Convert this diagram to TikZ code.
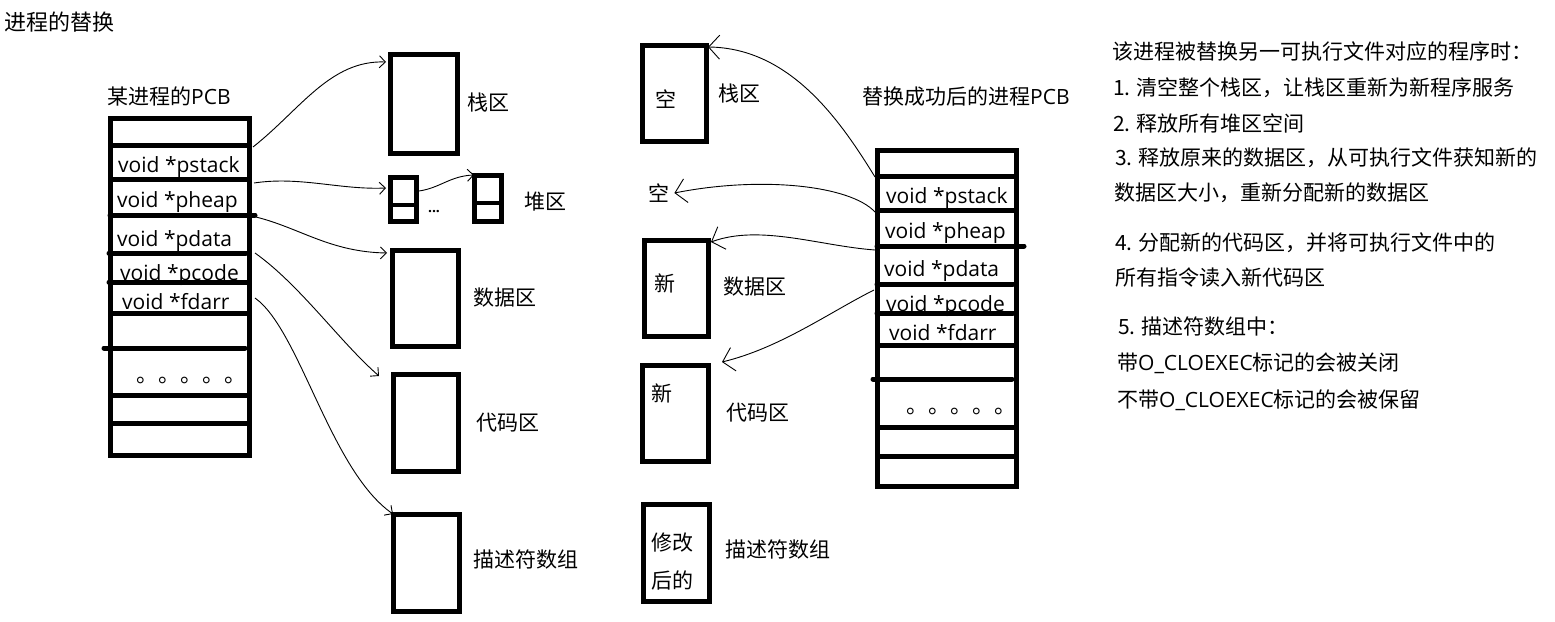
\documentclass[tikz,border=0pt]{standalone}
\usepackage{fontspec}
\setmainfont{Noto Sans CJK SC}
\newfontfamily\latf{Open Sans}
\usetikzlibrary{arrows.meta}
\tikzset{
  membox/.style={draw, line width=5pt, inner sep=0pt, outer sep=0pt},
  rowline/.style={line width=5pt, line cap=round},
  thinline/.style={line width=4pt},
  connL/.style={line width=0.9pt, -{Straight Barb[length=6pt,width=12pt]}},
  connR/.style={line width=0.9pt, -{Straight Barb[length=11pt,width=24pt]}},
  lab/.style={anchor=west, inner sep=0pt, font=\fontsize{21}{24}\selectfont},
  ttl/.style={anchor=west, inner sep=0pt, font=\fontsize{21}{24}\selectfont},
  field/.style={anchor=base west, inner sep=0pt, font=\latf\fontsize{21}{24}\selectfont},
  dots/.style={anchor=base west, inner sep=0pt, font=\fontsize{22}{24}\selectfont},
  note/.style={anchor=west, inner sep=0pt, font=\fontsize{21}{24}\selectfont},
}
\begin{document}
\begin{tikzpicture}[x=1pt,y=-1pt]
\useasboundingbox[fill=white] (0,0) rectangle (1555,621);

% titles
\node[ttl, font=\fontsize{22}{24}\selectfont] (title) at (4,22) {进程的替换};
\node[ttl] (lpcbt) at (107,96) {某进程的{\latf PCB}};
\node[ttl] (rpcbt) at (862,97) {替换成功后的进程{\latf PCB}};

% ---------------- left PCB ----------------
\node[membox, minimum width=139, minimum height=337] (lpcb) at (179.5,286.5) {};
\foreach \y in {145,179,313,395,423} \draw[line width=5pt] (110,\y) -- (249,\y);
\draw[rowline] (110,215) -- (255,215);
\draw[rowline] (109,253) -- (246,253);
\draw[rowline] (109,282) -- (248,282);
\draw[rowline] (104,348) -- (245,348);
\node[field] (lps) at (118,172) {void *pstack};
\node[field] (lph) at (117,207) {void *pheap};
\node[field] (lpd) at (117,246) {void *pdata};
\node[field] (lpc) at (120,280) {void *pcode};
\node[field] (lpf) at (122,309) {void *fdarr};
\node[dots] (ldots) at (136,382) {。。。。。};

% ---------------- left memory areas ----------------
\node[membox, minimum width=67, minimum height=99] (stack) at (423.5,103.5) {};
\node[membox, minimum width=26, minimum height=44] (heap1) at (403,199) {};
\draw[thinline] (390,205) -- (416,205);
\node[membox, minimum width=27, minimum height=46] (heap2) at (487.5,198) {};
\draw[thinline] (474,203) -- (501,203);
\node[membox, minimum width=66, minimum height=96] (data) at (425,298) {};
\node[membox, minimum width=65, minimum height=97] (code) at (425.5,422.5) {};
\node[membox, minimum width=66, minimum height=97] (desc) at (426,562.5) {};
\node[inner sep=0pt, font=\latf\bfseries\fontsize{14}{16}\selectfont] (hdots) at (434,212) {...};

\node[lab] (l1) at (467,103) {栈区};
\node[lab] (l2) at (524,202) {堆区};
\node[lab] (l3) at (473,298) {数据区};
\node[lab] (l4) at (476,423) {代码区};
\node[lab] (l5) at (473,560) {描述符数组};

% left connectors
\coordinate (a1) at (253,147);
\coordinate (a2) at (254,183);
\coordinate (a3) at (256,217);
\coordinate (a4) at (255,253);
\coordinate (a5) at (255,298);
\draw[connL] (a1) .. controls (300,110) and (330,60) .. ([xshift=-4pt,yshift=-8pt]stack.north west);
\draw[connL] (a2) .. controls (300,176) and (340,190) .. ([xshift=-4pt,yshift=-11pt]heap1.north west);
\draw[connL] (a3) .. controls (300,228) and (330,252) .. ([xshift=-5pt,yshift=-3pt]data.north west);
\draw[connL] (a4) .. controls (300,285) and (340,342) .. ([xshift=-14pt,yshift=-2pt]code.north west);
\draw[connL] (a5) .. controls (300,330) and (330,470) .. (desc.north west);
\draw[connL] ([xshift=3pt,yshift=8pt]heap1.east) .. controls (440,188) and (450,176) .. (heap2.north west);

% ---------------- middle (new) areas ----------------
\node[membox, minimum width=64, minimum height=96] (nstack) at (674,93) {};
\node[membox, minimum width=64, minimum height=96] (ndata) at (676,288) {};
\node[membox, minimum width=66, minimum height=96] (ncode) at (675,413) {};
\node[membox, minimum width=66, minimum height=97] (ndesc) at (676,552.5) {};

\node[lab] (e1) at (655,99) {空};
\node[lab] (e2) at (648,193) {空};
\node[lab] (n1) at (654,283) {新};
\node[lab] (n2) at (651,393) {新};
\node[lab] (m1) at (651,543) {修改};
\node[lab] (m2) at (651,580) {后的};

\node[lab] (r1) at (718,94) {栈区};
\node[lab] (r2) at (723,287) {数据区};
\node[lab] (r3) at (726,413) {代码区};
\node[lab] (r4) at (725,550) {描述符数组};

% ---------------- right PCB ----------------
\node[membox, minimum width=139, minimum height=336] (rpcb) at (946.5,318) {};
\foreach \y in {176,210,345,427,456} \draw[line width=5pt] (877,\y) -- (1016,\y);
\draw[rowline] (877,246) -- (1024,246);
\draw[rowline] (877,284) -- (1013,284);
\draw[rowline] (877,313) -- (1013,313);
\draw[rowline] (873,379) -- (1012,379);
\node[field] (rps) at (886,203) {void *pstack};
\node[field] (rph) at (885,238) {void *pheap};
\node[field] (rpd) at (884,276) {void *pdata};
\node[field] (rpc) at (886,311) {void *pcode};
\node[field] (rpf) at (889,340) {void *fdarr};
\node[dots] (rdots) at (906,413) {。。。。。};

% right connectors
\coordinate (b1) at (875,177);
\coordinate (b2) at (875,212);
\coordinate (b3) at (875,250);
\coordinate (b4) at (874,290);
\draw[connR] (b1) .. controls (840,120) and (790,48) .. ([xshift=2pt,yshift=-2pt]nstack.north east);
\draw[connR] (b2) .. controls (850,185) and (760,176) .. ([xshift=5pt]e2.east);
\draw[connR] (b3) .. controls (820,246) and (760,224) .. ([xshift=3pt,yshift=-2pt]ndata.north east);
\draw[connR] (b4) .. controls (830,312) and (780,348) .. ([xshift=14pt,yshift=3pt]ncode.north east);

% ---------------- notes ----------------
\node[note] (t1) at (1112,52) {该进程被替换另一可执行文件对应的程序时：};
\node[note] (t2) at (1113,88) {1. 清空整个栈区，让栈区重新为新程序服务};
\node[note] (t3) at (1113,123) {2. 释放所有堆区空间};
\node[note] (t4) at (1115,158) {3. 释放原来的数据区，从可执行文件获知新的};
\node[note] (t5) at (1114,193) {数据区大小，重新分配新的数据区};
\node[note] (t6) at (1115,243) {4. 分配新的代码区，并将可执行文件中的};
\node[note] (t7) at (1115,278) {所有指令读入新代码区};
\node[note] (t8) at (1118,327) {5. 描述符数组中：};
\node[note] (t9) at (1117,363) {带{\latf O\_CLOEXEC}标记的会被关闭};
\node[note] (t10) at (1117,400) {不带{\latf O\_CLOEXEC}标记的会被保留};
\end{tikzpicture}
\end{document}
